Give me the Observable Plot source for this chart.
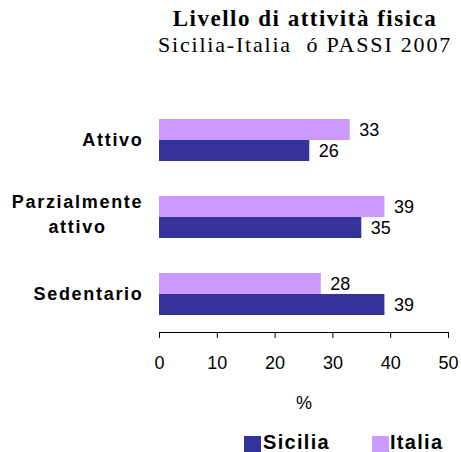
<!DOCTYPE html>
<html>
<head>
<meta charset="utf-8">
<script src="https://cdn.jsdelivr.net/npm/d3@7"></script>
<script src="https://cdn.jsdelivr.net/npm/@observablehq/plot@0.6"></script>
<style>
  html, body { margin: 0; padding: 0; background: #ffffff; }
  #wrap { position: relative; width: 461px; height: 452px; overflow: hidden; }
  #chart { position: absolute; left: 0; top: 0; }
  .ttl { position: absolute; left: 155px; width: 300px; text-align: center; white-space: pre; color: #000; font-family: "Liberation Serif", "Times New Roman", serif; }
  #title { top: 10.2px; font-size: 23px; line-height: 18px; font-weight: bold; letter-spacing: 1.5px; }
  #subtitle { top: 35.6px; font-size: 22px; line-height: 18px; letter-spacing: 1.8px; }
  .sw { position: absolute; top: 436px; width: 17px; height: 16px; }
  .lg { position: absolute; top: 432px; font-family: "Liberation Sans", Arial, sans-serif; font-weight: bold; font-size: 20px; line-height: 20px; letter-spacing: 1.3px; color: #000; white-space: pre; }
  g[font-weight="bold"] text { letter-spacing: 1.7px; }
</style>
</head>
<body>
<div id="wrap">
  <div id="chart"></div>
  <div class="ttl" id="title"></div>
  <div class="ttl" id="subtitle"></div>
  <div id="legend"></div>
</div>
<script>
const titleText = "Livello di attività fisica";
const subtitleText = "Sicilia-Italia  ó PASSI 2007";
const categories = ["Attivo", "Parzialmente attivo", "Sedentario"];
const categoryLabels = ["Attivo", "Parzialmente\nattivo", "Sedentario"];
const series = ["Sicilia", "Italia"];
const sicilia = [26, 35, 39];
const italia = [33, 39, 28];
const xTicks = [0, 10, 20, 30, 40, 50];
const xLabel = "%";
const colors = ["#333399", "#CC99FF"];

document.getElementById("title").textContent = titleText;
document.getElementById("subtitle").textContent = subtitleText;

const rows = [];
categories.forEach((c, i) => {
  rows.push({category: c, series: "Sicilia", value: sicilia[i]});
  rows.push({category: c, series: "Italia", value: italia[i]});
});
const labelRows = categories.map((c, i) => ({category: c, label: categoryLabels[i]}));

const chart = Plot.plot({
  width: 461,
  height: 452,
  marginLeft: 159,
  marginRight: 13,
  marginTop: 100,
  marginBottom: 119,
  style: {fontFamily: "'Liberation Sans', Arial, sans-serif", fontSize: "18px", color: "#000", background: "transparent"},
  x: {domain: [0, 50], ticks: xTicks, tickFormat: d => String(d), label: xLabel, labelAnchor: "center", labelArrow: "none", labelOffset: 76, tickSize: 6, tickPadding: 18, line: true},
  y: {domain: ["Italia", "Sicilia"], paddingInner: 0, paddingOuter: 0.8, axis: null},
  fy: {domain: categories, padding: 0, axis: null},
  color: {domain: series, range: colors},
  marks: [
    Plot.barX(rows, {fy: "category", y: "series", x: "value", fill: "series"}),
    Plot.text(rows, {fy: "category", y: "series", x: "value", text: d => String(d.value), textAnchor: "start", dx: 9, fill: "#000"}),
    Plot.text(labelRows.filter(d => !d.label.includes("\n")), {fy: "category", text: "label", frameAnchor: "left", textAnchor: "end", dx: -16, fontWeight: "bold", fill: "#000"}),
    Plot.text(labelRows.filter(d => d.label.includes("\n")), {fy: "category", text: "label", frameAnchor: "left", textAnchor: "middle", dx: -82, dy: -4.5, lineHeight: 1.4, fontWeight: "bold", fill: "#000"})
  ]
});
document.getElementById("chart").appendChild(chart);

// legend
const legend = document.getElementById("legend");
const swX = [244, 372];
const txX = [263, 390];
series.forEach((s, i) => {
  const sw = document.createElement("div");
  sw.className = "sw";
  sw.style.left = swX[i] + "px";
  sw.style.background = colors[i];
  legend.appendChild(sw);
  const t = document.createElement("div");
  t.className = "lg";
  t.style.left = txX[i] + "px";
  t.textContent = s;
  legend.appendChild(t);
});
</script>
</body>
</html>
